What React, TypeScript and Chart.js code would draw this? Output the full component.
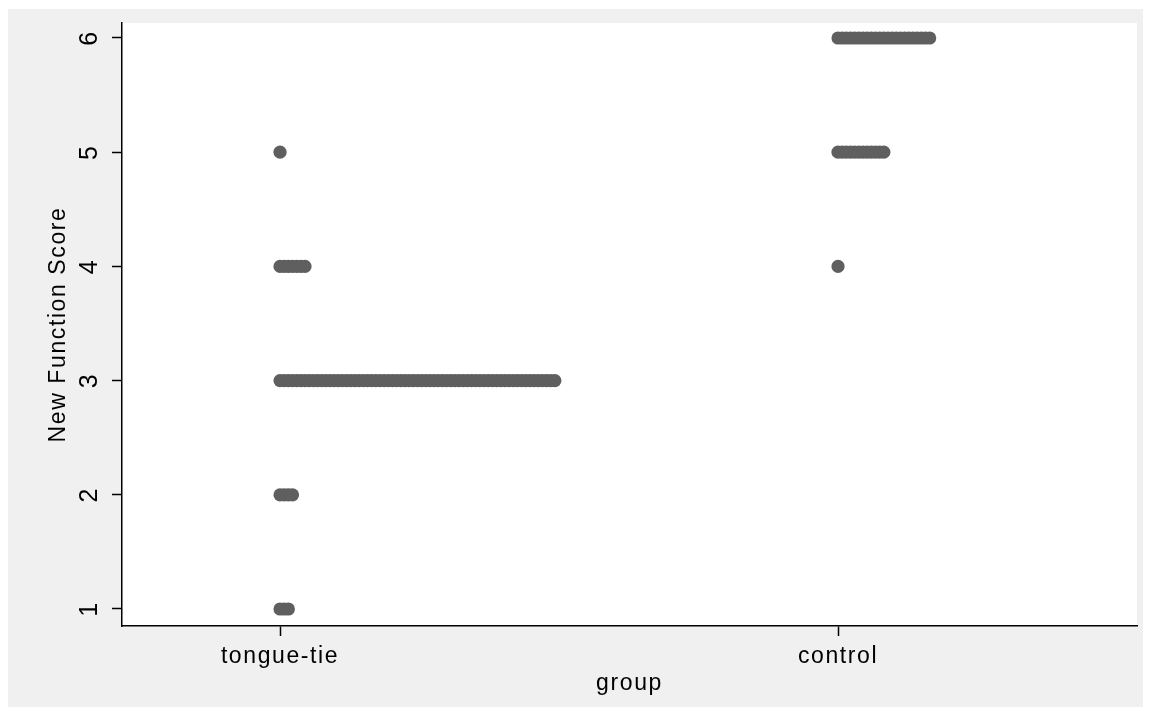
import React, { useEffect, useRef } from 'react';
import { Chart, registerables } from 'chart.js';

Chart.register(...registerables);

// ---- data ----
const groups = ['tongue-tie', 'control'];
const scoreLevels = [1, 2, 3, 4, 5, 6];
const tongueTieCounts = [3, 4, 67, 7, 1, 0];
const controlCounts = [0, 0, 0, 1, 12, 23];
const yTickValues = [1, 2, 3, 4, 5, 6];

const FAMILY = '"Liberation Sans", Arial, Helvetica, sans-serif';
const FONT = { family: FAMILY, size: 23 };
const YTICK_FONT = { family: FAMILY, size: 25 };
const DOT_COLOR = '#5f5f5f';

// Stata-style dot plot: dots at a score stack to the right of the group position,
// the longest stack occupying half of the gap between groups.
function buildPoints(groupIndex: number, counts: number[], step: number) {
  const pts: { x: number; y: number }[] = [];
  counts.forEach((c, k) => {
    for (let j = 0; j < c; j++) pts.push({ x: groupIndex + j * step, y: scoreLevels[k] });
  });
  return pts;
}

const bgPlugin = {
  id: 'stataBg',
  beforeUpdate(chart: any) {
    chart.ctx.letterSpacing = '1.6px';
  },
  beforeDraw(chart: any) {
    const { ctx, chartArea, width, height } = chart;
    ctx.letterSpacing = '1.6px';
    ctx.save();
    ctx.fillStyle = '#f0f0f0';
    ctx.fillRect(0, 0, width, height);
    ctx.fillStyle = '#ffffff';
    ctx.fillRect(chartArea.left, chartArea.top, chartArea.right - chartArea.left, chartArea.bottom - chartArea.top);
    ctx.restore();
  },
};

export default function App() {
  const ref = useRef<HTMLCanvasElement | null>(null);

  useEffect(() => {
    if (!ref.current) return;
    const maxCount = Math.max(...tongueTieCounts, ...controlCounts);
    const step = 0.5 / maxCount;
    const dsStyle = {
      backgroundColor: DOT_COLOR,
      borderWidth: 0,
      pointRadius: 6.6,
      pointHoverRadius: 6.6,
    };
    const axisGrid = {
      display: true,
      drawOnChartArea: false,
      drawTicks: true,
      tickLength: 10,
      tickColor: '#000',
      tickWidth: 1.5,
      color: '#000',
    };
    const axisBorder = { display: true, color: '#000', width: 1.5 };

    const chart = new Chart(ref.current, {
      type: 'scatter',
      data: {
        datasets: [
          { label: groups[0], data: buildPoints(0, tongueTieCounts, step), ...dsStyle },
          { label: groups[1], data: buildPoints(1, controlCounts, step), ...dsStyle },
        ],
      },
      options: {
        animation: false,
        responsive: false,
        events: [],
        layout: { padding: { top: 14, right: 7, left: 0, bottom: 0 } },
        plugins: { legend: { display: false }, tooltip: { enabled: false } },
        scales: {
          x: {
            type: 'linear',
            min: -0.2832,
            max: 1.5358,
            afterBuildTicks: (s: any) => {
              s.ticks = groups.map((_, i) => ({ value: i }));
            },
            afterFit: (s: any) => {
              s.height = 82;
              s.paddingLeft = 0;
              s.paddingRight = 0;
            },
            ticks: {
              callback: (v: any) => groups[v as number] ?? '',
              font: FONT,
              color: '#000',
              padding: 7,
              minRotation: 0,
              maxRotation: 0,
              autoSkip: false,
            },
            grid: axisGrid,
            border: axisBorder,
            title: {
              display: true,
              text: 'group',
              font: FONT,
              color: '#000',
              padding: { top: 0, bottom: 11 },
            },
          },
          y: {
            type: 'linear',
            min: 0.8511,
            max: 6.1313,
            afterBuildTicks: (s: any) => {
              s.ticks = yTickValues.map((v) => ({ value: v }));
            },
            afterFit: (s: any) => {
              s.width = 115;
              s.paddingTop = 0;
              s.paddingBottom = 0;
            },
            ticks: {
              callback: (v: any) => String(v),
              font: YTICK_FONT,
              color: '#000',
              padding: 14,
              minRotation: 90,
              maxRotation: 90,
              crossAlign: 'center',
              autoSkip: false,
            },
            grid: axisGrid,
            border: axisBorder,
            title: {
              display: true,
              text: 'New Function Score',
              font: FONT,
              color: '#000',
              padding: { top: 38, bottom: 0 },
            },
          },
        },
      },
      plugins: [bgPlugin],
    } as any);
    return () => chart.destroy();
  }, []);

  return (
    <div style={{ position: 'relative', left: -1, top: 1, width: 1137, height: 699 }}>
      <canvas ref={ref} width={1137} height={699} style={{ display: 'block' }} />
    </div>
  );
}
